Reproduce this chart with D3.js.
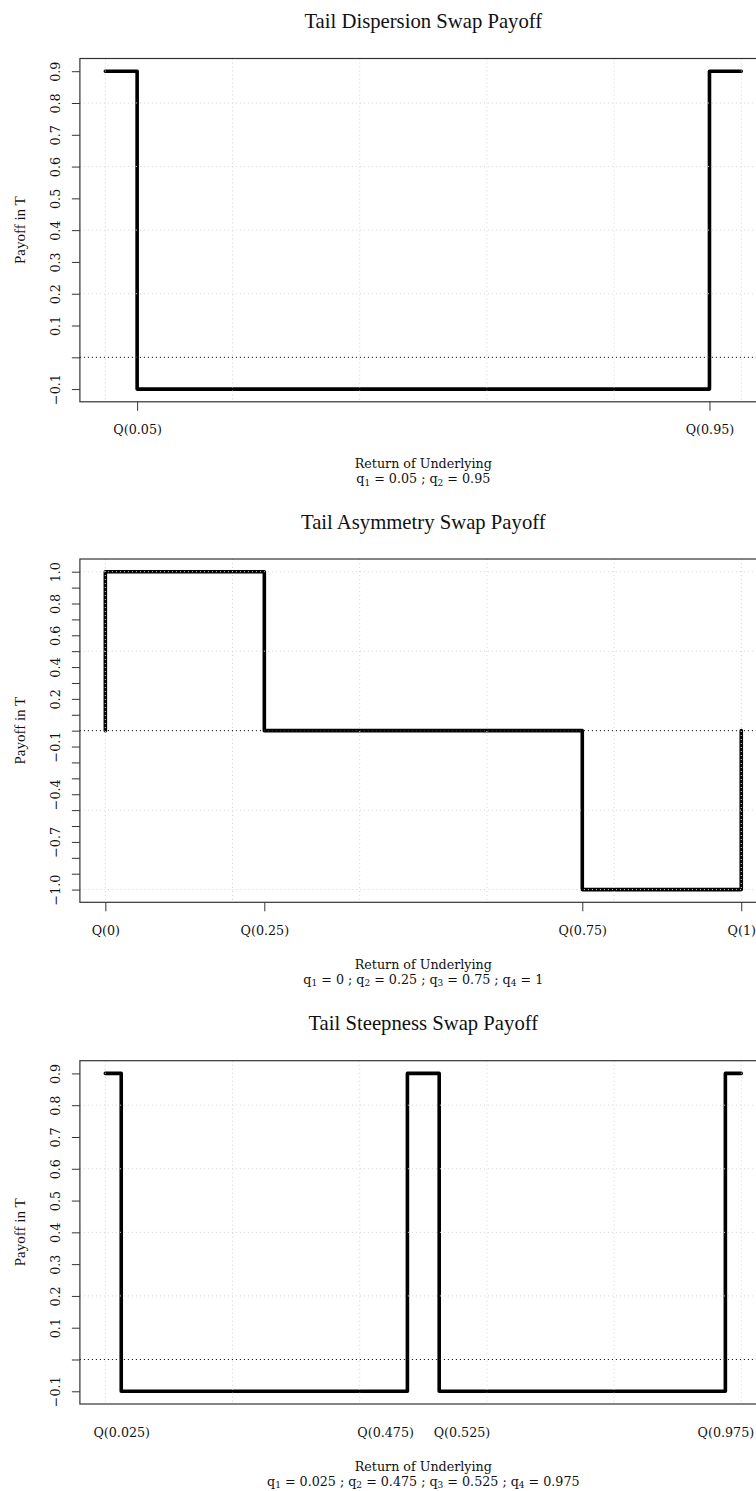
<!DOCTYPE html>
<html>
<head>
<meta charset="utf-8">
<script src="https://cdn.jsdelivr.net/npm/d3@7/dist/d3.min.js"></script>
<style>
  body { margin: 0; background: #fff; }
  text { font-family: "Liberation Serif", "Times New Roman", serif; fill: #111; }
  .lab { font-family: "DejaVu Serif", serif; font-size: 12.7px; }
</style>
</head>
<body>
<svg id="chart" width="756" height="1491"></svg>
<script>
// ---- data ----
const titles = ["Tail Dispersion Swap Payoff", "Tail Asymmetry Swap Payoff", "Tail Steepness Swap Payoff"];

// payoff step paths, x = quantile level, y = payoff
const dispX = [0, 0.05, 0.05, 0.95, 0.95, 1];
const dispY = [0.9, 0.9, -0.1, -0.1, 0.9, 0.9];
const asymX = [0, 0, 0.25, 0.25, 0.75, 0.75, 1, 1];
const asymY = [0, 1, 1, 0, 0, -1, -1, 0];
const steepX = [0, 0.025, 0.025, 0.475, 0.475, 0.525, 0.525, 0.975, 0.975, 1];
const steepY = [0.9, 0.9, -0.1, -0.1, 0.9, 0.9, -0.1, -0.1, 0.9, 0.9];

// y ticks and the labels R kept
const dispYTicks = [-0.1, 0, 0.1, 0.2, 0.3, 0.4, 0.5, 0.6, 0.7, 0.8, 0.9];
const dispYLabels = ["\u22120.1", "", "0.1", "0.2", "0.3", "0.4", "0.5", "0.6", "0.7", "0.8", "0.9"];
const asymYTicks = [-1, -0.9, -0.8, -0.7, -0.6, -0.5, -0.4, -0.3, -0.2, -0.1, 0, 0.1, 0.2, 0.3, 0.4, 0.5, 0.6, 0.7, 0.8, 0.9, 1];
const asymYLabels = ["\u22121.0", "", "", "\u22120.7", "", "", "\u22120.4", "", "", "\u22120.1", "", "", "0.2", "", "0.4", "", "0.6", "", "0.8", "", "1.0"];

// grid lines
const xGrid = [0, 0.2, 0.4, 0.6, 0.8, 1];
const dispYGrid = [0, 0.2, 0.4, 0.6, 0.8];
const asymYGrid = [-1, -0.5, 0, 0.5, 1];

// x axis labels
const dispXTicks = [0.05, 0.95];
const dispXLabels = ["Q(0.05)", "Q(0.95)"];
const asymXTicks = [0, 0.25, 0.75, 1];
const asymXLabels = ["Q(0)", "Q(0.25)", "Q(0.75)", "Q(1)"];
const steepXTicks = [0.025, 0.44, 0.56, 0.975];
const steepXLabels = ["Q(0.025)", "Q(0.475)", "Q(0.525)", "Q(0.975)"];

// subtitle quantiles
const dispQ = ["0.05", "0.95"];
const asymQ = ["0", "0.25", "0.75", "1"];
const steepQ = ["0.025", "0.475", "0.525", "0.975"];

const panels = [
  { xs: dispX, ys: dispY, yt: dispYTicks, yl: dispYLabels, yg: dispYGrid, xt: dispXTicks, xl: dispXLabels, q: dispQ, tick: 9, top: 58.5 },
  { xs: asymX, ys: asymY, yt: asymYTicks, yl: asymYLabels, yg: asymYGrid, xt: asymXTicks, xl: asymXLabels, q: asymQ, tick: 9, top: 559 },
  { xs: steepX, ys: steepY, yt: dispYTicks, yl: dispYLabels, yg: dispYGrid, xt: steepXTicks, xl: steepXLabels, q: steepQ, tick: 0, top: 1060.7 }
];

const svg = d3.select("#chart");
svg.append("rect").attr("width", 756).attr("height", 1491).attr("fill", "#fff");

const boxH = 343.3;
// R style 4% expansion
const x = d3.scaleLinear().domain([-0.04, 1.04]).range([79.9, 766.7]);

panels.forEach((p, k) => {
  const ext = d3.extent(p.ys);
  const pad = (ext[1] - ext[0]) * 0.04;
  const y = d3.scaleLinear().domain([ext[0] - pad, ext[1] + pad]).range([p.top + boxH, p.top]);
  const g = svg.append("g");
  const bottom = p.top + boxH;
  const midX = (x.range()[0] + x.range()[1]) / 2;

  // title
  g.append("text").attr("x", midX).attr("y", p.top - 30.5)
    .attr("text-anchor", "middle").style("font-size", "20.7px").text(titles[k]);

  // payoff line
  const pts = p.xs.map((d, i) => [d, p.ys[i]]);
  g.append("path").datum(pts)
    .attr("d", d3.line().x(d => x(d[0])).y(d => y(d[1])))
    .attr("fill", "none").attr("stroke", "#000").attr("stroke-width", 3.6)
    .attr("stroke-linejoin", "round").attr("stroke-linecap", "round");

  // grid on top
  g.append("g").selectAll("line").data(xGrid).join("line")
    .attr("x1", d => x(d)).attr("x2", d => x(d))
    .attr("y1", p.top).attr("y2", bottom)
    .attr("stroke", "#d3d3d3").attr("stroke-width", 1).attr("stroke-dasharray", "1,3");
  g.append("g").selectAll("line").data(p.yg).join("line")
    .attr("x1", x.range()[0]).attr("x2", x.range()[1])
    .attr("y1", d => y(d)).attr("y2", d => y(d))
    .attr("stroke", "#d3d3d3").attr("stroke-width", 1).attr("stroke-dasharray", "1,3");
  // zero line
  g.append("line")
    .attr("x1", x.range()[0]).attr("x2", x.range()[1])
    .attr("y1", y(0)).attr("y2", y(0))
    .attr("stroke", "#000").attr("stroke-width", 1).attr("stroke-dasharray", "1,3");

  // box
  g.append("rect").attr("x", x.range()[0]).attr("y", p.top)
    .attr("width", x.range()[1] - x.range()[0]).attr("height", boxH)
    .attr("fill", "none").attr("stroke", "#333").attr("stroke-width", 1.2);

  // y axis
  const ya = g.append("g").attr("transform", `translate(${x.range()[0]},0)`)
    .call(d3.axisLeft(y).tickValues(p.yt).tickSize(8).tickFormat((d, i) => p.yl[i]));
  ya.select(".domain").remove();
  ya.attr("font-family", null).attr("font-size", null);
  ya.selectAll(".tick line").attr("stroke", "#333");
  ya.selectAll(".tick text").attr("class", "lab")
    .attr("transform", "rotate(-90)").attr("x", 0).attr("y", -20).attr("dy", 0)
    .attr("text-anchor", "middle").attr("fill", "#111");

  // x axis
  const xa = g.append("g").attr("transform", `translate(0,${bottom})`)
    .call(d3.axisBottom(x).tickValues(p.xt).tickSize(p.tick).tickFormat((d, i) => p.xl[i]));
  xa.select(".domain").remove();
  xa.attr("font-family", null).attr("font-size", null);
  xa.selectAll(".tick line").attr("stroke", "#333");
  xa.selectAll(".tick text").attr("class", "lab").attr("y", 32.5).attr("dy", 0).attr("fill", "#111");

  // y label
  g.append("text").attr("transform", `translate(24.5,${p.top + boxH / 2}) rotate(-90)`)
    .attr("text-anchor", "middle").style("font-size", "15px").text("Payoff in T");

  // x label with subscripts
  g.append("text").attr("class", "lab").attr("x", midX).attr("y", bottom + 66.6)
    .attr("text-anchor", "middle").text("Return of Underlying");
  const sub = g.append("text").attr("class", "lab").attr("x", midX).attr("y", bottom + 81.6)
    .attr("text-anchor", "middle");
  p.q.forEach((v, i) => {
    sub.append("tspan").text((i ? " ; " : "") + "q");
    sub.append("tspan").attr("dy", 2.5).style("font-size", "9px").text(i + 1);
    sub.append("tspan").attr("dy", -2.5).text(" = " + v);
  });
});
</script>
</body>
</html>
